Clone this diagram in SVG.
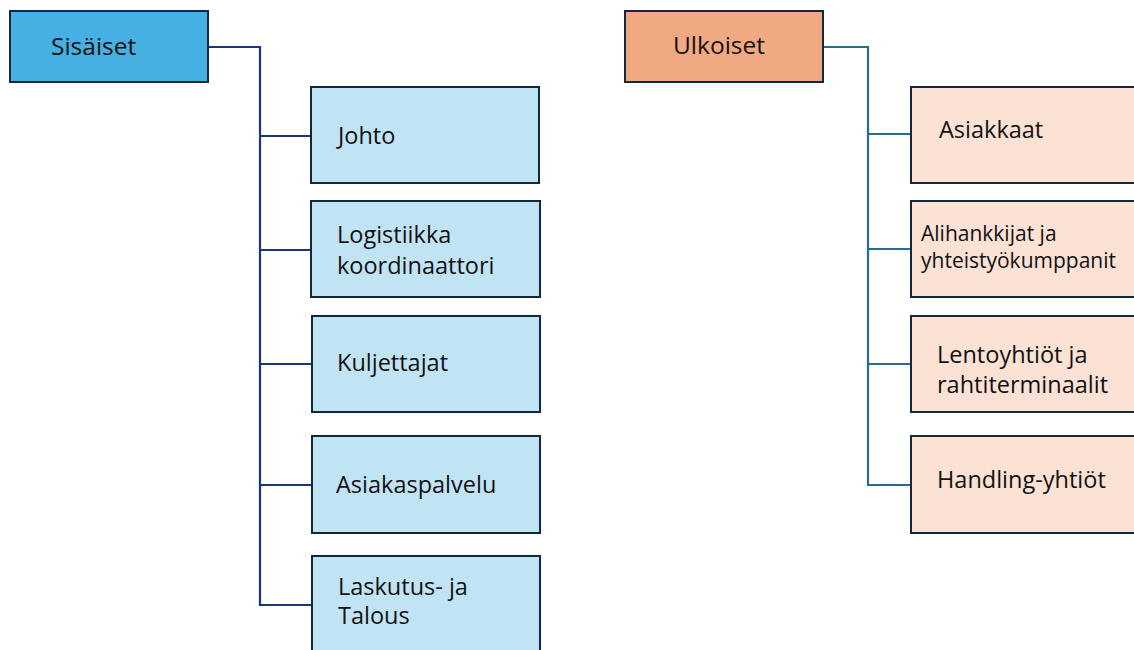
<svg xmlns="http://www.w3.org/2000/svg" width="1134" height="650" viewBox="0 0 1134 650">
<style>
.box{stroke:#13293b;stroke-width:2}
.inner{fill:#45b0e1}
.innerc{fill:#c1e4f5}
.outer{fill:#f1a983}
.outerc{fill:#fbe2d5}
text{font-family:"Open Sans","Noto Sans",sans-serif;font-size:23.5px;fill:#111}
.h{font-size:24.5px}
.s{font-size:21px}
.l{fill:none;stroke-width:2.2}
.ln{stroke:#1a357a}
.lt{stroke:#2a6c8e}
</style>
<rect width="1134" height="650" fill="#fff"/>
<g id="connectors">
<path class="l ln" d="M208 47H260V605H311M260 136H311M260 250H311M260 364H311M260 485H311"/>
<path class="l lt" d="M823 47H868V485H911M868 134H911M868 249H911M868 364H911"/>
</g>
<g id="sisaiset"><rect class="box inner" x="10" y="11" width="198" height="71"/><text class="h" x="51" y="55">Sisäiset</text></g>
<g id="johto"><rect class="box innerc" x="311" y="87" width="228" height="96"/><text x="338" y="144">Johto</text></g>
<g id="logistiikka"><rect class="box innerc" x="311" y="201" width="229" height="96"/><text x="337" y="243">Logistiikka</text><text x="337" y="274">koordinaattori</text></g>
<g id="kuljettajat"><rect class="box innerc" x="312" y="316" width="228" height="96"/><text x="337" y="371">Kuljettajat</text></g>
<g id="asiakaspalvelu"><rect class="box innerc" x="312" y="436" width="228" height="97"/><text x="336" y="493">Asiakaspalvelu</text></g>
<g id="laskutus"><rect class="box innerc" x="312" y="556" width="228" height="110"/><text x="338" y="595">Laskutus- ja</text><text x="338" y="624">Talous</text></g>
<g id="ulkoiset"><rect class="box outer" x="625" y="11" width="198" height="71"/><text class="h" x="673" y="54">Ulkoiset</text></g>
<g id="asiakkaat"><rect class="box outerc" x="911" y="87" width="240" height="96"/><text x="939" y="138">Asiakkaat</text></g>
<g id="alihankkijat"><rect class="box outerc" x="911" y="201" width="240" height="96"/><text class="s" x="921" y="241">Alihankkijat ja</text><text class="s" x="921" y="268">yhteistyökumppanit</text></g>
<g id="lentoyhtiot"><rect class="box outerc" x="911" y="316" width="240" height="96"/><text x="937" y="363">Lentoyhtiöt ja</text><text x="937" y="393">rahtiterminaalit</text></g>
<g id="handling"><rect class="box outerc" x="911" y="436" width="240" height="97"/><text x="937" y="488">Handling-yhtiöt</text></g>
</svg>
